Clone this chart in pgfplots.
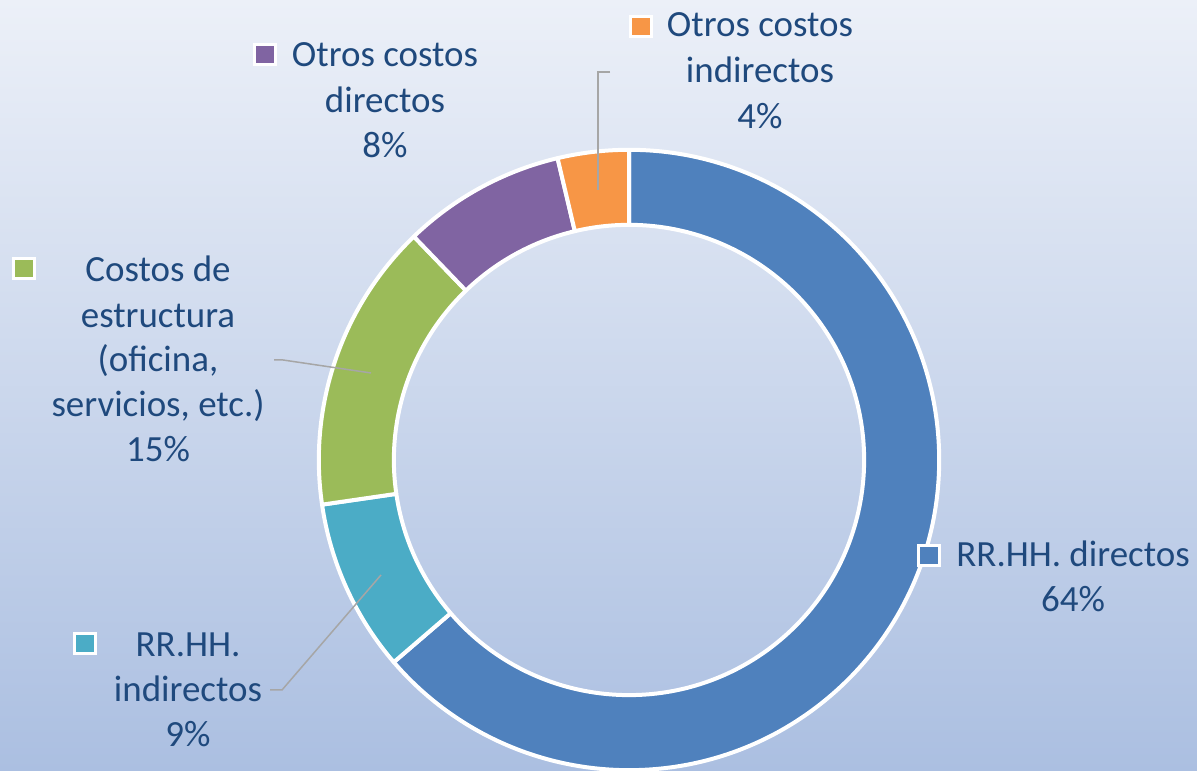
\documentclass[border=0pt]{standalone}
\usepackage{pgfplots}
\pgfplotsset{compat=1.18}
\usepackage{fontspec}
\setmainfont{Carlito}
\definecolor{c1}{HTML}{4F81BD}
\definecolor{c2}{HTML}{4BACC6}
\definecolor{c3}{HTML}{9BBB59}
\definecolor{c4}{HTML}{8064A2}
\definecolor{c5}{HTML}{F79646}
\definecolor{txt}{HTML}{1F497D}
\definecolor{lead}{HTML}{A6A6A6}
\definecolor{bgtop}{HTML}{ECF0F8}
\definecolor{bgbot}{HTML}{ABBFE1}
\begin{document}
\begin{tikzpicture}[font=\fontsize{10.5}{13}\selectfont]
\begin{axis}[x=0.01cm,y=0.01cm,xmin=0,xmax=1197,ymin=0,ymax=771,hide axis,clip=true]
\shade[top color=bgtop,bottom color=bgbot] (axis cs:0,0) rectangle (axis cs:1197,771);
\coordinate (bl) at (axis cs:0,0);
\coordinate (tr) at (axis cs:1197,771);
% donut: values in percent, clockwise from 12 o'clock
\xdef\start{90}
\foreach \v/\col in {63.7/c1,9.0/c2,15.1/c3,8.5/c4,3.7/c5}{
  \pgfmathsetmacro\en{\start-3.6*\v}
  \edef\temp{\noexpand\fill[\col,draw=white,line width=0.04cm,line join=round] (axis cs:629,311) ++(\start:3.10cm) arc[start angle=\start,end angle=\en,radius=3.10cm] -- ++(\en:-0.75cm) arc[start angle=\en,end angle=\start,radius=2.35cm] -- cycle;}
  \temp
  \xdef\start{\en}
}
% leader lines
\draw[lead,line width=0.015cm] (axis cs:610,699) -- (axis cs:598,699) -- (axis cs:598,581);
\draw[lead,line width=0.015cm] (axis cs:274,411) -- (axis cs:283,411) -- (axis cs:371,398);
\draw[lead,line width=0.015cm] (axis cs:270,81) -- (axis cs:282,81) -- (axis cs:381,196);
% legend keys
\tikzset{key/.style={draw=white,line width=0.03cm,minimum size=0.2cm,inner sep=0pt}}
\node[key,fill=c4] at (axis cs:265,716) {};
\node[key,fill=c5] at (axis cs:641,744) {};
\node[key,fill=c3] at (axis cs:24,502) {};
\node[key,fill=c2] at (axis cs:85,127) {};
\node[key,fill=c1] at (axis cs:929,215) {};
% labels
\tikzset{lb/.style={anchor=base,inner sep=0pt,text=txt}}
\node[lb] at (axis cs:385,704) {Otros costos};
\node[lb] at (axis cs:385,658) {directos};
\node[lb] at (axis cs:385,613) {8\%};
\node[lb] at (axis cs:760,734) {Otros costos};
\node[lb] at (axis cs:760,688) {indirectos};
\node[lb] at (axis cs:760,642) {4\%};
\node[lb] at (axis cs:158,489) {Costos de};
\node[lb] at (axis cs:158,443) {estructura};
\node[lb] at (axis cs:158,399) {(oficina,};
\node[lb] at (axis cs:158,354) {servicios, etc.)};
\node[lb] at (axis cs:158,309) {15\%};
\node[lb] at (axis cs:188,114) {RR.HH.};
\node[lb] at (axis cs:188,69) {indirectos};
\node[lb] at (axis cs:188,24) {9\%};
\node[lb] at (axis cs:1073,204) {RR.HH. directos};
\node[lb] at (axis cs:1073,159) {64\%};
\end{axis}
\pgfresetboundingbox
\path[use as bounding box] (bl) rectangle (tr);
\end{tikzpicture}
\end{document}
